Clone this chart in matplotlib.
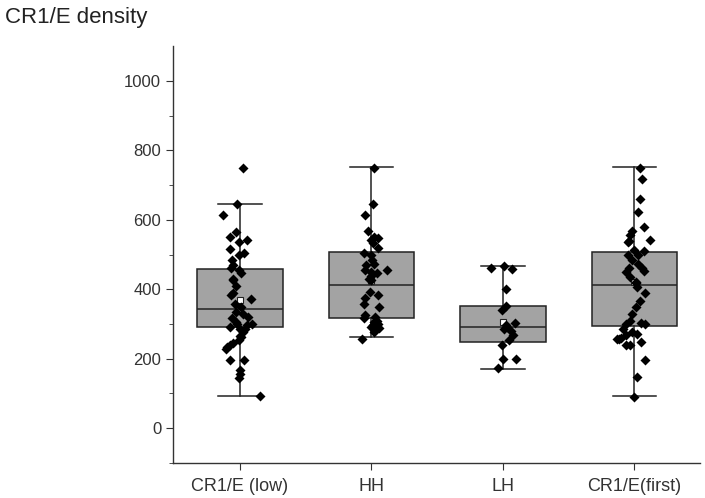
import matplotlib.pyplot as plt

plt.rcParams['font.family'] = ['Liberation Sans', 'DejaVu Sans']

groups = ["CR1/E (low)", "HH", "LH", "CR1/E(first)"]

# box summary
q1 = [291, 317, 248, 294]
med = [343, 412, 291, 412]
q3 = [458, 507, 352, 507]
whislo = [92, 262, 170, 92]
whishi = [645, 752, 467, 752]
means = [369, 424, 306, 420]

# points: values and horizontal offset from the box centre (in category units)
low_vals = [750, 645, 613, 565, 551, 537, 541, 517, 503, 498, 484, 469, 460, 455, 448, 429,
            426, 388, 383, 372, 357, 349, 335, 330, 316, 306, 301, 297, 292, 287, 277, 265,
            253, 244, 239, 234, 229, 196, 196, 169, 157, 145, 92, 410, 320, 300, 285, 262]
low_off = [0.02, -0.02, -0.13, -0.03, -0.08, -0.005, 0.05, -0.08, 0.03, -0.005, -0.06, -0.05,
           -0.07, -0.005, 0.01, -0.05, -0.05, -0.05, -0.07, 0.08, -0.04, 0.01, -0.03, 0.02,
           -0.06, -0.03, 0.09, 0.05, -0.08, 0.0, 0.02, 0.0, -0.01, -0.05, -0.08, -0.1, -0.11,
           -0.08, 0.03, 0.0, 0.0, -0.005, 0.15, -0.03, 0.06, -0.02, 0.04, 0.01]

hh_vals = [750, 645, 613, 567, 551, 541, 548, 532, 518, 503, 498, 484, 474, 455, 450, 448,
           455, 439, 429, 426, 393, 383, 374, 357, 349, 325, 321, 316, 306, 297, 301, 292,
           277, 258, 310, 288, 470]
hh_off = [0.02, 0.01, -0.05, -0.03, 0.02, -0.005, 0.05, 0.01, 0.05, -0.06, -0.005, 0.005,
          0.02, -0.05, -0.005, 0.04, 0.12, 0.0, -0.02, 0.0, -0.01, 0.05, -0.05, -0.06, 0.06,
          -0.05, 0.03, -0.06, 0.02, 0.01, 0.05, 0.0, 0.02, -0.07, 0.04, 0.06, -0.04]

lh_vals = [460, 467, 457, 402, 352, 340, 303, 292, 287, 268, 253, 239, 198, 198, 172, 296, 280]
lh_off = [-0.09, 0.01, 0.07, 0.02, 0.02, -0.01, 0.09, 0.03, 0.01, 0.08, 0.05, -0.01, 0.0,
          0.10, -0.04, 0.02, 0.06]

first_vals = [750, 717, 659, 621, 580, 567, 556, 541, 539, 535, 513, 511, 498, 498, 484, 474,
              460, 450, 452, 436, 420, 417, 407, 388, 349, 330, 301, 303, 300, 287, 277, 268,
              272, 258, 239, 249, 196, 148, 90, 256, 259, 239, 462, 365, 310]
first_off = [0.04, 0.06, 0.04, 0.03, 0.07, -0.02, -0.03, 0.12, -0.04, -0.05, 0.0, 0.07,
             -0.05, 0.03, -0.02, 0.03, 0.06, -0.06, 0.07, -0.03, 0.01, 0.01, 0.02, 0.08, 0.01,
             -0.02, -0.06, 0.05, 0.08, -0.09, -0.02, -0.06, 0.02, -0.13, -0.03, 0.05, 0.08,
             0.02, 0.0, -0.12, -0.1, -0.06, -0.04, 0.04, -0.03]

point_vals = [low_vals, hh_vals, lh_vals, first_vals]
point_offs = [low_off, hh_off, lh_off, first_off]

fig = plt.figure(figsize=(7.05, 4.98), dpi=100)
ax = fig.add_axes([0.2454, 0.0703, 0.7476, 0.8373])

stats = []
for i, name in enumerate(groups):
    stats.append(dict(label=name, q1=q1[i], med=med[i], q3=q3[i],
                      whislo=whislo[i], whishi=whishi[i], mean=means[i], fliers=[]))

pos = [1, 2, 3, 4]
ax.bxp(stats, positions=pos, widths=0.65, capwidths=0.33, patch_artist=True,
       showmeans=True, showfliers=False,
       boxprops=dict(facecolor="#a3a3a3", edgecolor="#222222", linewidth=1.1),
       medianprops=dict(color="#222222", linewidth=1.1),
       whiskerprops=dict(color="#222222", linewidth=1.1),
       capprops=dict(color="#222222", linewidth=1.1),
       meanprops=dict(marker="s", markerfacecolor="white", markeredgecolor="#222222",
                      markersize=5, markeredgewidth=0.8),
       zorder=1)

for i in range(4):
    xs = [pos[i] + o for o in point_offs[i]]
    ax.scatter(xs, point_vals[i], marker="D", s=26, color="black", zorder=3, linewidths=0)

ax.set_xlim(0.49, 4.5)
ax.set_ylim(-100, 1100)
ax.set_yticks([0, 200, 400, 600, 800, 1000])
ax.set_yticks(range(-100, 1100, 200), minor=True)
ax.set_xticks(pos)
ax.set_xticklabels(groups, fontsize=13)

for s in ["top", "right"]:
    ax.spines[s].set_visible(False)
for s in ["left", "bottom"]:
    ax.spines[s].set_color("#333333")
    ax.spines[s].set_linewidth(1.0)

ax.tick_params(axis="both", which="major", length=5, color="#333333",
               labelcolor="#333333")
ax.tick_params(axis="y", which="major", labelsize=12)
ax.tick_params(axis="y", which="minor", length=3, color="#333333")
ax.tick_params(axis="x", pad=6)

fig.text(0.007, 0.965, "CR1/E density", fontsize=16, color="#222222", va="center", ha="left")

fig.savefig("out.png", dpi=100)
